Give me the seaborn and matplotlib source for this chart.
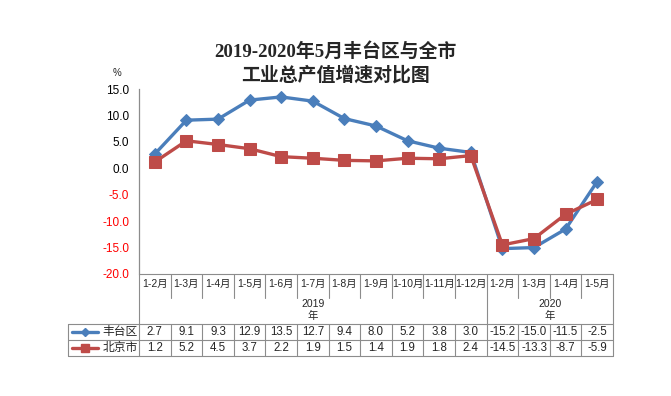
import matplotlib
matplotlib.use("Agg")
import matplotlib.pyplot as plt
import matplotlib.transforms as mtransforms
import seaborn as sns
import pandas as pd
import numpy as np

categories = ["1-2月", "1-3月", "1-4月", "1-5月", "1-6月", "1-7月", "1-8月", "1-9月",
              "1-10月", "1-11月", "1-12月", "1-2月", "1-3月", "1-4月", "1-5月"]
years = ["2019", "2019", "2019", "2019", "2019", "2019", "2019", "2019", "2019", "2019", "2019",
         "2020", "2020", "2020", "2020"]
fengtai = [2.7, 9.1, 9.3, 12.9, 13.5, 12.7, 9.4, 8.0, 5.2, 3.8, 3.0, -15.2, -15.0, -11.5, -2.5]
beijing = [1.2, 5.2, 4.5, 3.7, 2.2, 1.9, 1.5, 1.4, 1.9, 1.8, 2.4, -14.5, -13.3, -8.7, -5.9]
series_names = ["丰台区", "北京市"]
yticks = [15.0, 10.0, 5.0, 0.0, -5.0, -10.0, -15.0, -20.0]
title_lines = ["2019-2020年5月丰台区与全市", "工业总产值增速对比图"]
year_suffix = "年"

BLUE = "#4A7EBB"
RED = "#BE4B48"
GRID = "#8C8C8C"
CJK = ["Liberation Sans", "Noto Sans CJK SC", "DejaVu Sans"]
SERIF = ["Liberation Serif", "Noto Sans CJK SC", "DejaVu Sans"]

sns.set_theme(style="white")
plt.rcParams["font.family"] = CJK

W, H = 671, 396
fig = plt.figure(figsize=(W / 100, H / 100), dpi=100)
L, R, T, B = 139, 613, 89, 274
ax = fig.add_axes([L / W, 1 - B / H, (R - L) / W, (B - T) / H])

x = np.arange(len(categories))
df = pd.DataFrame({"x": np.concatenate([x, x]),
                   "v": fengtai + beijing,
                   "s": [series_names[0]] * len(x) + [series_names[1]] * len(x)})

sns.lineplot(data=df[df.s == series_names[0]], x="x", y="v", color=BLUE, marker="D",
             markersize=6, markeredgecolor=BLUE, linewidth=2.4, ax=ax, legend=False, zorder=3)
sns.lineplot(data=df[df.s == series_names[1]], x="x", y="v", color=RED, marker="s",
             markersize=8, markeredgecolor=RED, linewidth=2.4, ax=ax, legend=False, zorder=4)

ax.set_xlim(-0.5, len(categories) - 0.5)
ax.set_ylim(-20, 15)
ax.set_yticks(yticks)
ax.set_yticklabels([f"{v:.1f}" for v in yticks], fontsize=8.5)
for lab, v in zip(ax.get_yticklabels(), yticks):
    lab.set_color("red" if v < 0 else "black")
ax.tick_params(axis="y", length=0, pad=7)
ax.set_xticks([])
ax.set_xlabel("")
ax.set_ylabel("")
for side in ["top", "right", "bottom"]:
    ax.spines[side].set_visible(False)
ax.spines["left"].set_color(GRID)
ax.spines["left"].set_linewidth(0.9)

# title and unit
fig.text(335 / W, 1 - 51.5 / H, title_lines[0], ha="center", va="center", fontsize=13.6,
         family=SERIF, fontweight="bold")
fig.text(336 / W, 1 - 75.5 / H, title_lines[1], ha="center", va="center", fontsize=13.6,
         family=SERIF, fontweight="bold")
fig.text(117 / W, 1 - 73 / H, "%", ha="center", va="center", fontsize=7)

# data table below the axes
tr = mtransforms.blended_transform_factory(ax.transData, fig.transFigure)
def fy(p):
    return 1 - p / H
n = len(categories)
px = (R - L) / n
xl, xr = -0.5, n - 0.5
def fx(p):
    return xl + (p - L) / px
xleg = fx(68)
lw = 0.8

def hline(x0, x1, py):
    ax.plot([x0, x1], [fy(py), fy(py)], transform=tr, color=GRID, lw=lw, clip_on=False)
def vline(xx, p0, p1):
    ax.plot([xx, xx], [fy(p0), fy(p1)], transform=tr, color=GRID, lw=lw, clip_on=False)

y_top, y_sep, y_data, y_mid, y_bot = 274, 298, 324, 340, 356
hline(xl, xr, y_top)
hline(xleg, xr, y_data)
hline(xleg, xr, y_mid)
hline(xleg, xr, y_bot)
vline(xl, y_top, y_bot)
vline(xr, y_top, y_bot)
vline(xleg, y_data, y_bot)
n2019 = years.count("2019")
for i in range(1, n):
    xx = i - 0.5
    if i == n2019:
        vline(xx, y_top, y_bot)
    else:
        vline(xx, y_top, y_sep)
        vline(xx, y_data, y_bot)

for i, c in enumerate(categories):
    ax.text(i, fy(284), c, transform=tr, ha="center", va="center", fontsize=7.5)
for yr in ["2019", "2020"]:
    idx = [i for i, y in enumerate(years) if y == yr]
    cx = (idx[0] + idx[-1]) / 2
    ax.text(cx, fy(304), yr, transform=tr, ha="center", va="center", fontsize=7.5)
    ax.text(cx, fy(316), year_suffix, transform=tr, ha="center", va="center", fontsize=7.5)

for vals, py in [(fengtai, 332), (beijing, 348)]:
    for i, v in enumerate(vals):
        ax.text(i, fy(py), f"{v:.1f}", transform=tr, ha="center", va="center", fontsize=8.3)

# legend keys in the table
for name, col, mk, ms, py in [(series_names[0], BLUE, "D", 4, 332), (series_names[1], RED, "s", 6, 348)]:
    ax.plot([fx(72), fx(98)], [fy(py), fy(py)], transform=tr, color=col, lw=2.4, clip_on=False)
    ax.plot([fx(85)], [fy(py)], transform=tr, color=col, marker=mk,
            markersize=ms, clip_on=False)
    ax.text(fx(120), fy(py), name, transform=tr, ha="center",
            va="center", fontsize=8.5)

fig.savefig("out.png", dpi=100)
